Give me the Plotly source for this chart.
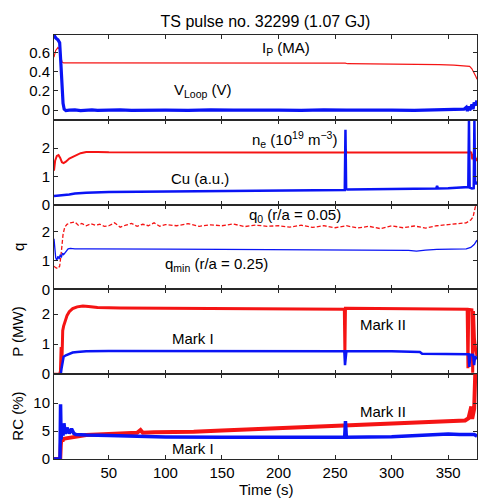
import plotly.graph_objects as go
from plotly.subplots import make_subplots

# ---------------- data ----------------
title_text = "TS pulse no. 32299 (1.07 GJ)"
x_ticks = [50, 100, 150, 200, 250, 300, 350]

# Panel 1: plasma current (MA) and loop voltage (V)
t_ip = [1.5, 3, 5, 6.5, 7.5, 8.5, 10, 20, 50, 100, 150, 200, 230, 259, 261, 300,
        330, 342, 355, 366, 369, 371, 373, 374.5, 375.5]
ip = [0.55, 0.62, 0.65, 0.63, 0.56, 0.5, 0.49, 0.49, 0.49, 0.49, 0.49, 0.49, 0.49,
      0.488, 0.482, 0.48, 0.478, 0.472, 0.468, 0.462, 0.455, 0.43, 0.39, 0.35, 0.32]

t_vl = [1.5, 3, 5, 6.5, 7.5, 8.5, 9.5, 10.5, 12, 15, 20, 25, 30, 35, 40, 50, 60, 70,
        80, 90, 100, 120, 140, 160, 180, 200, 220, 240, 260, 280, 300, 320, 340, 355,
        364, 366, 367, 368, 369, 370, 371, 372, 373, 374, 375.5]
vloop = [0.78, 0.75, 0.73, 0.7, 0.5, 0.25, 0.07, 0.01, -0.005, 0.0, 0.003, -0.004, 0.0,
         0.003, -0.003, 0.0, 0.003, -0.003, 0.0, 0.003, 0.0, -0.003, 0.003, 0.0, 0.003,
         0.0, -0.003, 0.003, 0.0, 0.003, 0.0, -0.003, 0.003, 0.0, 0.01, 0.03, -0.01,
         0.04, 0.0, 0.02, 0.06, 0.01, 0.08, 0.05, 0.1]

# Panel 2: density (1e19 m^-3) and Cu (a.u.)
t_ne = [1.5, 2.5, 4, 5.5, 7, 8.5, 10, 12, 15, 20, 25, 30, 35, 40, 50, 100, 150, 200,
        250, 258.5, 259.2, 260, 261, 300, 340, 360, 368, 368.8, 369.6, 370.5, 371.3,
        372.2, 373, 373.8, 374.6, 375.5]
ne = [1.2, 1.55, 1.72, 1.75, 1.65, 1.5, 1.47, 1.52, 1.63, 1.74, 1.82, 1.86, 1.87,
      1.86, 1.85, 1.84, 1.84, 1.84, 1.84, 1.84, 1.97, 1.86, 1.84, 1.84, 1.84, 1.84,
      1.84, 1.9, 1.84, 1.84, 1.6, 1.8, 1.45, 1.7, 1.55, 1.65]

t_cu = [1.5, 5, 10, 15, 20, 30, 50, 100, 150, 200, 250, 258.6, 259.2, 259.8, 261,
        300, 330, 339.5, 340.2, 341, 350, 360, 367.8, 368.4, 369, 371, 372.6, 373.2,
        373.8, 374.6, 375.5]
cu = [0.3, 0.31, 0.33, 0.36, 0.39, 0.42, 0.45, 0.47, 0.48, 0.5, 0.51, 0.52, 2.65,
      0.55, 0.53, 0.55, 0.56, 0.57, 0.66, 0.57, 0.58, 0.6, 0.62, 2.97, 0.6, 0.57, 0.58,
      2.97, 0.8, 0.72, 0.82]

# Panel 3: safety factor
t_q0 = [1.5, 3, 5, 6.5, 8, 9.5, 11, 13, 16, 20, 23, 26, 30, 34, 38, 42, 46, 50, 55,
        60, 65, 70, 75, 80, 85, 90, 95, 100, 110, 120, 130, 140, 150, 160, 170, 180,
        190, 200, 210, 220, 230, 240, 250, 260, 270, 280, 290, 300, 310, 320, 330,
        340, 350, 360, 366, 370, 372, 374, 375.5]
q0 = [0.8, 0.75, 0.72, 0.8, 1.3, 1.9, 2.15, 2.25, 2.3, 2.33, 2.22, 2.28, 2.2, 2.27,
      2.22, 2.25, 2.18, 2.2, 2.3, 2.15, 2.22, 2.28, 2.18, 2.25, 2.2, 2.3, 2.18, 2.24,
      2.2, 2.27, 2.18, 2.23, 2.2, 2.26, 2.17, 2.22, 2.18, 2.2, 2.15, 2.22, 2.14, 2.2,
      2.13, 2.2, 2.12, 2.18, 2.1, 2.2, 2.13, 2.19, 2.12, 2.2, 2.24, 2.28, 2.3, 2.4,
      2.5, 2.85, 2.95]

t_qm = [1.5, 2, 3, 4, 5, 6, 7, 8, 9, 10, 12, 14, 16, 20, 30, 50, 100, 150, 200, 250,
        280, 300, 315, 322, 330, 340, 360, 366, 370, 373, 375.5]
qmin = [1.75, 1.5, 1.1, 1.0, 1.15, 1.05, 1.2, 1.1, 1.25, 1.2, 1.3, 1.4, 1.42, 1.4,
        1.4, 1.39, 1.39, 1.38, 1.37, 1.36, 1.36, 1.37, 1.35, 1.32, 1.36, 1.38, 1.39,
        1.4, 1.45, 1.55, 1.7]

# Panel 4: power (MW)
t_p2 = [1.5, 6.5, 7.2, 7.8, 8.5, 9.2, 10, 11, 13, 15, 18, 22, 27, 32, 40, 60, 100,
        150, 200, 250, 258.2, 258.7, 259.2, 260, 300, 340, 360, 366.8, 367.5, 368.2,
        369, 371, 371.7, 372.4, 373.2, 374, 375.5]
p_mk2 = [0.0, 0.0, 0.1, 0.9, 0.4, 1.45, 1.6, 1.75, 1.95, 2.08, 2.18, 2.24, 2.27,
         2.25, 2.22, 2.2, 2.19, 2.18, 2.17, 2.16, 2.16, 0.72, 2.19, 2.19, 2.18, 2.18,
         2.17, 2.16, 0.2, 2.15, 2.15, 2.14, 0.05, 2.1, 1.2, 0.9, 0.6]

t_p1 = [1.5, 7.5, 8.2, 9, 10, 12, 15, 18, 22, 30, 50, 100, 150, 200, 250, 258.2,
        258.8, 259.4, 260, 300, 320, 325, 327, 340, 360, 367, 368, 368.8, 369.6, 372,
        373, 373.8, 374.6, 375.5]
p_mk1 = [0.0, 0.0, 0.2, 0.45, 0.58, 0.63, 0.68, 0.72, 0.74, 0.76, 0.77, 0.77, 0.76,
         0.76, 0.76, 0.76, 0.3, 0.76, 0.76, 0.76, 0.76, 0.74, 0.68, 0.67, 0.66, 0.66,
         0.66, 0.24, 0.65, 0.64, 0.3, 0.6, 0.55, 0.5]

# Panel 5: radiated fraction RC (%)
t_rc2 = [1.5, 7, 7.5, 8, 9, 10, 12, 15, 20, 30, 40, 50, 60, 75, 78, 80, 90, 100, 125,
         150, 175, 200, 225, 250, 275, 300, 325, 350, 365, 368, 370.5, 371.2, 372,
         373, 374, 375.5]
rc_mk2 = [0.0, 0.0, 2.5, 3.8, 3.2, 3.6, 3.7, 3.8, 4.0, 4.3, 4.4, 4.5, 4.6, 4.7, 5.2,
          4.7, 4.8, 4.8, 4.9, 5.1, 5.3, 5.5, 5.7, 5.9, 6.1, 6.3, 6.5, 6.7, 6.9, 7.3,
          9.4, 7.2, 7.8, 9.0, 15.5, 15.5]

t_rc1 = [1.5, 6.8, 7.3, 7.8, 8.5, 9.5, 10.3, 11.5, 13, 15, 17, 19, 21, 25, 30, 50, 75,
         100, 150, 200, 250, 258.5, 259.2, 260, 300, 320, 330, 340, 350, 360, 370,
         373, 375.5]
rc_mk1 = [0.0, 0.0, 9.8, 3.5, 5.5, 4.2, 6.4, 4.5, 5.6, 4.6, 5.4, 4.6, 4.4, 4.3, 4.3,
          4.2, 4.0, 3.95, 3.9, 3.85, 3.9, 3.9, 6.8, 3.9, 4.0, 4.2, 4.4, 4.5, 4.5, 4.4,
          4.3, 4.4, 4.1]

# ---------------- figure ----------------
RED = "rgb(245,20,20)"
BLUE = "rgb(10,20,245)"
FONT = "Liberation Sans, Arial, Helvetica, sans-serif"

fig = make_subplots(rows=5, cols=1, shared_xaxes=True, vertical_spacing=0)

def add(row, t, y, color, width, dash=None):
    fig.add_trace(go.Scatter(x=t, y=y, mode="lines",
                             line=dict(color=color, width=width, dash=dash),
                             showlegend=False, hoverinfo="skip"), row=row, col=1)

add(1, t_ip, ip, RED, 1.2)
add(1, t_vl, vloop, BLUE, 3.2)
add(2, t_ne, ne, RED, 2)
add(2, t_cu, cu, BLUE, 2.5)
add(3, t_q0, q0, RED, 1.3, "4px,2px")
add(3, t_qm, qmin, BLUE, 1.3)
add(4, t_p2, p_mk2, RED, 3)
add(4, t_p1, p_mk1, BLUE, 2.5)
add(5, t_rc2, rc_mk2, RED, 4)
add(5, t_rc1, rc_mk1, BLUE, 3.5)

y_ranges = [[-0.1, 0.78], [0, 3.0], [0, 2.93], [0, 2.82], [0, 15.2]]
y_ticks = [[0, 0.2, 0.4, 0.6], [0, 1, 2], [0, 1, 2], [0, 1, 2], [0, 5, 10]]
y_ticktext = [["0", "0.2", "0.4", "0.6"], ["0", "1", "2"], ["0", "1", "2"],
              ["0", "1", "2"], ["0", "5", "10"]]

axis_common = dict(showline=True, linecolor="rgb(40,40,40)", linewidth=1,
                   mirror="ticks", ticks="inside", ticklen=4, tickcolor="rgb(40,40,40)",
                   showgrid=False, zeroline=False,
                   tickfont=dict(family=FONT, size=15, color="black"))

for i in range(5):
    r = i + 1
    fig.update_yaxes(row=r, col=1, range=y_ranges[i], tickvals=y_ticks[i],
                     ticktext=y_ticktext[i], **axis_common)
    fig.update_xaxes(row=r, col=1, range=[1.5, 375.5], tickvals=x_ticks,
                     ticktext=[str(v) for v in x_ticks], showticklabels=(r == 5),
                     **axis_common)

ann_font = dict(family=FONT, size=15, color="black")

def txt(row, x, y, s, **kw):
    sfx = "" if row == 1 else str(row)
    fig.add_annotation(x=x, y=y, xref="x" + sfx, yref="y" + sfx, text=s,
                       showarrow=False, font=ann_font, **kw)

txt(1, 207, 0.64, "I<sub>P</sub> (MA)")
txt(1, 133, 0.2, "V<sub>Loop</sub> (V)")
txt(2, 214, 2.3, "n<sub>e</sub> (10<sup>19</sup> m<sup>−3</sup>)")
txt(2, 131, 0.94, "Cu (a.u.)")
txt(3, 215, 2.55, "q<sub>0</sub> (r/a = 0.05)")
txt(3, 145, 0.86, "q<sub>min</sub> (r/a = 0.25)")
txt(4, 124, 1.2, "Mark I")
txt(4, 292, 1.64, "Mark II")
txt(5, 292, 8.6, "Mark II")
txt(5, 124, 1.8, "Mark I")

# y-axis titles
for label, yc in [("q", 0.5), ("P (MW)", 0.3), ("RC (%)", 0.1)]:
    fig.add_annotation(x=-0.085, y=yc, xref="paper", yref="paper", text=label,
                       textangle=-90, showarrow=False, font=ann_font,
                       xanchor="center", yanchor="middle")

fig.add_annotation(x=0.5, y=-0.072, xref="paper", yref="paper", text="Time (s)",
                   showarrow=False, font=ann_font, xanchor="center", yanchor="middle")

fig.update_layout(
    width=478, height=499,
    margin=dict(l=54, r=1, t=35, b=40),
    paper_bgcolor="white", plot_bgcolor="white",
    title=dict(text=title_text, x=0.5, xref="paper", y=1 - 21 / 499, yref="container",
               xanchor="center", yanchor="middle",
               font=dict(family=FONT, size=16, color="black")),
)

fig.write_html("out.html", config={"displayModeBar": False},
               post_script="document.body.style.margin='0';"
                           "document.body.style.overflow='hidden';")
